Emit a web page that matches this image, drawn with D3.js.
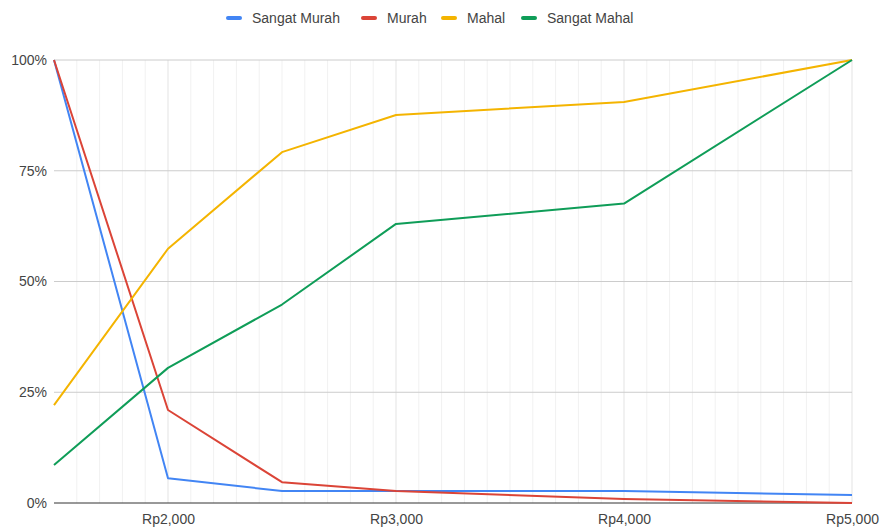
<!DOCTYPE html>
<html>
<head>
<meta charset="utf-8">
<script src="https://cdn.jsdelivr.net/npm/d3@7"></script>
<style>
  html, body { margin: 0; padding: 0; background: #fff; }
  svg { display: block; font-family: "Liberation Sans", Arial, sans-serif; }
</style>
</head>
<body>
<svg id="chart" width="882" height="530"></svg>
<script>
// Harga (Rp) pada sumbu X
const prices = [1500, 2000, 2500, 3000, 4000, 5000];

// Persentase kumulatif responden per kategori
const sangatMurah = [100, 5.6, 2.7, 2.7, 2.7, 1.8];
const murah       = [100, 21.0, 4.7, 2.7, 0.9, 0];
const mahal       = [22.1, 57.4, 79.2, 87.6, 90.5, 100];
const sangatMahal = [8.6, 30.5, 44.8, 63.0, 67.6, 100];

const seriesNames  = ["Sangat Murah", "Murah", "Mahal", "Sangat Mahal"];
const seriesValues = [sangatMurah, murah, mahal, sangatMahal];
const seriesColors = ["#4285F4", "#DB4437", "#F4B400", "#0F9D58"];

const xTicks = [2000, 3000, 4000, 5000];
const yTicks = [0, 25, 50, 75, 100];

const svg = d3.select("#chart");
const margin = { left: 54, right: 30, top: 60, bottom: 27 };
const W = 882, H = 530;
const labelFont = "\"Liberation Sans\", Arial, sans-serif";

const x = d3.scaleLinear().domain([1500, 5000]).range([margin.left, W - margin.right]);
const y = d3.scaleLinear().domain([0, 100]).range([H - margin.bottom, margin.top]);

// Minor vertical gridlines every Rp100
const minor = d3.range(1600, 5001, 100).filter(v => v % 1000 !== 0);
svg.append("g").selectAll("line").data(minor).join("line")
  .attr("x1", d => x(d)).attr("x2", d => x(d))
  .attr("y1", y(100)).attr("y2", y(0))
  .attr("stroke", "#f1f1f1").attr("stroke-width", 1);

// Major vertical gridlines
svg.append("g").selectAll("line").data(xTicks).join("line")
  .attr("x1", d => x(d)).attr("x2", d => x(d))
  .attr("y1", y(100)).attr("y2", y(0))
  .attr("stroke", "#e3e3e3").attr("stroke-width", 1);

// Horizontal gridlines
svg.append("g").selectAll("line").data(yTicks.filter(v => v > 0)).join("line")
  .attr("x1", x(1500)).attr("x2", x(5000))
  .attr("y1", d => y(d)).attr("y2", d => y(d))
  .attr("stroke", "#cccccc").attr("stroke-width", 1);

// Baseline
svg.append("line")
  .attr("x1", x(1500)).attr("x2", x(5000))
  .attr("y1", y(0)).attr("y2", y(0))
  .attr("stroke", "#333").attr("stroke-width", 1);

// Y axis labels
const yAxis = d3.axisLeft(y).tickValues(yTicks).tickSize(0).tickPadding(7)
  .tickFormat(d => d + "%");
svg.append("g").attr("transform", `translate(${margin.left},0)`).call(yAxis)
  .call(g => g.select(".domain").remove())
  .call(g => g.selectAll("text").attr("fill", "#444").style("font-size", "14px")
    .style("font-family", labelFont));

// X axis labels
const xAxis = d3.axisBottom(x).tickValues(xTicks).tickSize(0).tickPadding(11)
  .tickFormat(d => "Rp" + d3.format(",")(d));
svg.append("g").attr("transform", `translate(0,${y(0)})`).call(xAxis)
  .call(g => g.select(".domain").remove())
  .call(g => g.selectAll("text").attr("fill", "#444").style("font-size", "14px")
    .style("font-family", labelFont));

// Lines
const line = d3.line().x((d, i) => x(prices[i])).y(d => y(d));
svg.append("g").selectAll("path").data(seriesValues).join("path")
  .attr("d", d => line(d))
  .attr("fill", "none")
  .attr("stroke", (d, i) => seriesColors[i])
  .attr("stroke-width", 2)
  .attr("stroke-linejoin", "round");

// Legend
const legend = svg.append("g").attr("transform", "translate(0,18)");
const legendX = [228, 363, 443, 523];
seriesNames.forEach((name, i) => {
  const g = legend.append("g").attr("transform", `translate(${legendX[i]},0)`);
  g.append("line").attr("x1", 0).attr("x2", 12).attr("y1", 0).attr("y2", 0)
    .attr("stroke", seriesColors[i]).attr("stroke-width", 4).attr("stroke-linecap", "round");
  g.append("text").attr("x", 24).attr("y", 0).attr("dy", "0.35em")
    .attr("fill", "#444").style("font-size", "14px")
    .style("font-family", labelFont)
    .text(name);
});
</script>
</body>
</html>
